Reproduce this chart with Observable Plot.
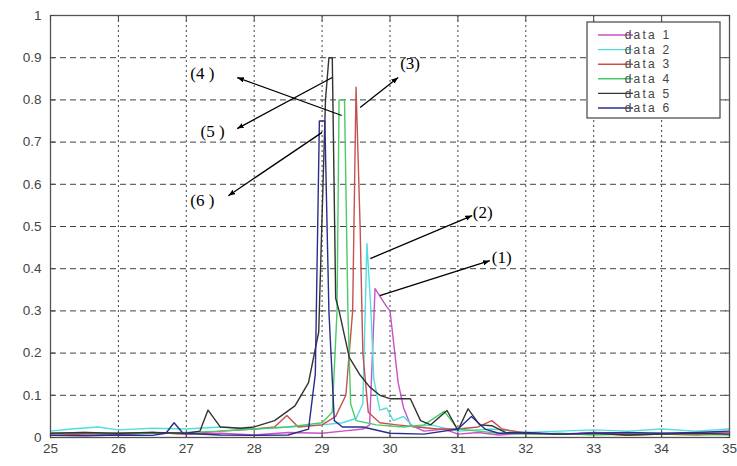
<!DOCTYPE html>
<html>
<head>
<meta charset="utf-8">
<script src="https://cdn.jsdelivr.net/npm/d3@7"></script>
<script src="https://cdn.jsdelivr.net/npm/@observablehq/plot@0.6"></script>
<style>
  html, body { margin: 0; padding: 0; background: #fff; }
  #chart { position: relative; width: 737px; height: 466px; }
</style>
</head>
<body>
<div id="chart"></div>
<script>
// ---- data ----
const xTicks = [25, 26, 27, 28, 29, 30, 31, 32, 33, 34, 35];
const yTicks = [0, 0.1, 0.2, 0.3, 0.4, 0.5, 0.6, 0.7, 0.8, 0.9, 1];
const seriesNames = ["data 1", "data 2", "data 3", "data 4", "data 5", "data 6"];
const seriesColors = ["#c850c8", "#50dede", "#c85050", "#48cc68", "#333333", "#2c2c8c"];

const d1x = [25, 25.5, 26, 26.5, 27, 27.5, 28, 28.5, 29, 29.3, 29.6, 29.7, 29.78, 29.85, 29.95, 30.0, 30.12, 30.2, 30.3, 30.5, 30.8, 31, 31.3, 31.6, 32, 32.5, 33, 33.5, 34, 34.5, 35];
const d1y = [0.008, 0.01, 0.006, 0.012, 0.008, 0.01, 0.006, 0.012, 0.01, 0.015, 0.02, 0.03, 0.353, 0.335, 0.31, 0.3, 0.13, 0.07, 0.03, 0.015, 0.02, 0.008, 0.012, 0.006, 0.01, 0.008, 0.012, 0.01, 0.008, 0.01, 0.012];

const d2x = [25, 25.3, 25.7, 26, 26.5, 27, 27.5, 28, 28.5, 29, 29.3, 29.5, 29.6, 29.66, 29.72, 29.76, 29.85, 29.95, 30.05, 30.2, 30.35, 30.6, 31, 31.5, 32, 32.5, 33, 33.5, 34, 34.5, 35];
const d2y = [0.015, 0.02, 0.025, 0.018, 0.022, 0.02, 0.025, 0.02, 0.025, 0.03, 0.035, 0.045, 0.08, 0.46, 0.3, 0.14, 0.065, 0.07, 0.04, 0.05, 0.025, 0.03, 0.015, 0.02, 0.012, 0.015, 0.018, 0.015, 0.02, 0.015, 0.02];

const d3x = [25, 25.5, 26, 26.5, 27, 27.5, 28, 28.3, 28.48, 28.65, 29, 29.2, 29.35, 29.45, 29.5, 29.56, 29.6, 29.68, 29.85, 30.1, 30.4, 30.7, 31, 31.3, 31.5, 31.65, 32, 32.5, 33, 33.5, 34, 34.5, 35];
const d3y = [0.005, 0.008, 0.01, 0.012, 0.008, 0.015, 0.02, 0.025, 0.052, 0.025, 0.03, 0.05, 0.1, 0.3, 0.83, 0.5, 0.2, 0.06, 0.035, 0.03, 0.025, 0.02, 0.02, 0.025, 0.04, 0.02, 0.01, 0.008, 0.01, 0.005, 0.008, 0.006, 0.008];

const d4x = [25, 25.5, 26, 26.5, 27, 27.5, 28, 28.5, 29, 29.15, 29.22, 29.25, 29.33, 29.38, 29.42, 29.5, 29.8, 30.2, 30.5, 30.8, 31, 31.3, 31.6, 32, 32.5, 33, 33.5, 34, 34.5, 35];
const d4y = [0.01, 0.012, 0.008, 0.01, 0.012, 0.015, 0.02, 0.025, 0.035, 0.06, 0.3, 0.8, 0.8, 0.3, 0.08, 0.04, 0.03, 0.025, 0.03, 0.062, 0.02, 0.015, 0.01, 0.008, 0.01, 0.006, 0.008, 0.01, 0.008, 0.006];

const d5x = [25, 25.5, 26, 26.5, 27, 27.2, 27.32, 27.5, 27.8, 28, 28.3, 28.6, 28.8, 28.95, 29.05, 29.1, 29.15, 29.2, 29.25, 29.4, 29.55, 29.7, 29.85, 30, 30.3, 30.45, 30.6, 30.84, 31, 31.15, 31.32, 31.5, 31.7, 32, 32.5, 33, 33.5, 34, 34.5, 35];
const d5y = [0.01, 0.012, 0.01, 0.012, 0.01, 0.015, 0.065, 0.025, 0.022, 0.025, 0.04, 0.075, 0.13, 0.25, 0.8, 0.9, 0.9, 0.33, 0.3, 0.19, 0.15, 0.12, 0.1, 0.092, 0.092, 0.04, 0.03, 0.064, 0.017, 0.068, 0.03, 0.028, 0.012, 0.01, 0.008, 0.01, 0.006, 0.008, 0.01, 0.008];

const d6x = [25, 25.5, 26, 26.5, 26.7, 26.82, 26.95, 27.5, 28, 28.5, 28.8, 28.9, 28.96, 29.04, 29.1, 29.18, 29.3, 29.6, 30, 30.5, 31, 31.2, 31.4, 31.6, 32, 32.5, 33, 33.5, 34, 34.5, 35];
const d6y = [0.005, 0.004, 0.006, 0.005, 0.01, 0.035, 0.01, 0.006, 0.005, 0.006, 0.02, 0.15, 0.75, 0.75, 0.3, 0.04, 0.025, 0.025, 0.01, 0.008, 0.02, 0.05, 0.02, 0.01, 0.012, 0.008, 0.01, 0.012, 0.01, 0.012, 0.015];

// annotation arrows (data coordinates): start -> tip
const arrowX1 = [29.85, 29.71, 29.56, 29.29, 29.15, 29.0];
const arrowY1 = [0.336, 0.424, 0.782, 0.763, 0.853, 0.723];
const arrowX2 = [31.47, 31.21, 30.12, 27.75, 27.75, 27.62];
const arrowY2 = [0.419, 0.526, 0.853, 0.853, 0.732, 0.573];
const labelText = ["(1)", "(2)", "(3)", "(4 )", "(5 )", "(6 )"];
const labelX = [31.5, 31.22, 30.15, 27.06, 27.21, 27.06];
const labelY = [0.4265, 0.533, 0.886, 0.863, 0.725, 0.5616];

// ---- build tables ----
const allX = [d1x, d2x, d3x, d4x, d5x, d6x];
const allY = [d1y, d2y, d3y, d4y, d5y, d6y];
const seriesData = allX.map((xs, i) => xs.map((x, j) => ({x, y: allY[i][j], s: seriesNames[i]})));
const arrows = arrowX1.map((x1, i) => ({x1, y1: arrowY1[i], x2: arrowX2[i], y2: arrowY2[i]}));
const labels = labelText.map((t, i) => ({t, x: labelX[i], y: labelY[i]}));

const fmtY = d => String(+d.toFixed(1));
const tickFont = "Liberation Sans, Arial, sans-serif";

const plot = Plot.plot({
  width: 737,
  height: 466,
  marginLeft: 50,
  marginRight: 8,
  marginTop: 15,
  marginBottom: 29,
  style: {fontFamily: tickFont, background: "#fff"},
  x: {domain: [25, 35]},
  y: {domain: [0, 1]},
  marks: [
    Plot.gridX(xTicks, {stroke: "#222", strokeOpacity: 0.85, strokeDasharray: "2,3"}),
    Plot.gridY(yTicks, {stroke: "#222", strokeOpacity: 0.85, strokeDasharray: "6,4"}),
    ...seriesData.map((d, i) => Plot.line(d, {x: "x", y: "y", stroke: seriesColors[i], strokeWidth: 1.4})),
    Plot.frame({stroke: "#555", strokeWidth: 1.3}),
    Plot.axisX(xTicks, {anchor: "bottom", tickSize: -5, tickPadding: 11, fontSize: 13.5, color: "#444", label: null, tickFormat: d => String(d)}),
    Plot.axisX(xTicks, {anchor: "top", tickSize: -5, label: null, tickFormat: () => "", color: "#444"}),
    Plot.axisY(yTicks, {anchor: "left", tickSize: -5, tickPadding: 14, fontSize: 13.5, color: "#444", label: null, tickFormat: fmtY}),
    Plot.axisY(yTicks, {anchor: "right", tickSize: -5, label: null, tickFormat: () => "", color: "#444"}),
    Plot.link(arrows, {x1: "x1", y1: "y1", x2: "x2", y2: "y2", stroke: "#000", strokeWidth: 1.3, markerEnd: "arrow"}),
    Plot.text(labels, {x: "x", y: "y", text: "t", textAnchor: "start", fontFamily: "Liberation Serif, Times New Roman, serif", fontSize: 17, fill: "#000"})
  ]
});

document.getElementById("chart").appendChild(plot);

// filled arrowheads
d3.select(plot).selectAll("marker")
  .attr("markerWidth", 10).attr("markerHeight", 10)
  .attr("fill", "#000").attr("stroke", "none")
  .each(function() {
    d3.select(this).selectAll("path").attr("d", "M-9,-3.5L0,0L-9,3.5Z");
  });

// legend box (MATLAB style)
const lg = d3.select(plot).append("g");
lg.append("rect").attr("x", 587).attr("y", 22).attr("width", 133).attr("height", 96)
  .attr("fill", "#fff").attr("stroke", "#444").attr("stroke-width", 1.2);
seriesNames.forEach((name, i) => {
  const yy = 35 + i * 14.6;
  lg.append("line").attr("x1", 598).attr("x2", 633).attr("y1", yy).attr("y2", yy)
    .attr("stroke", seriesColors[i]).attr("stroke-width", 1.4);
  lg.append("text").attr("x", 648).attr("y", yy).attr("dy", "0.35em").attr("fill", "#444")
    .style("font-family", tickFont).style("font-size", "12px").style("letter-spacing", "2.2px").text(name);
});
</script>
</body>
</html>
